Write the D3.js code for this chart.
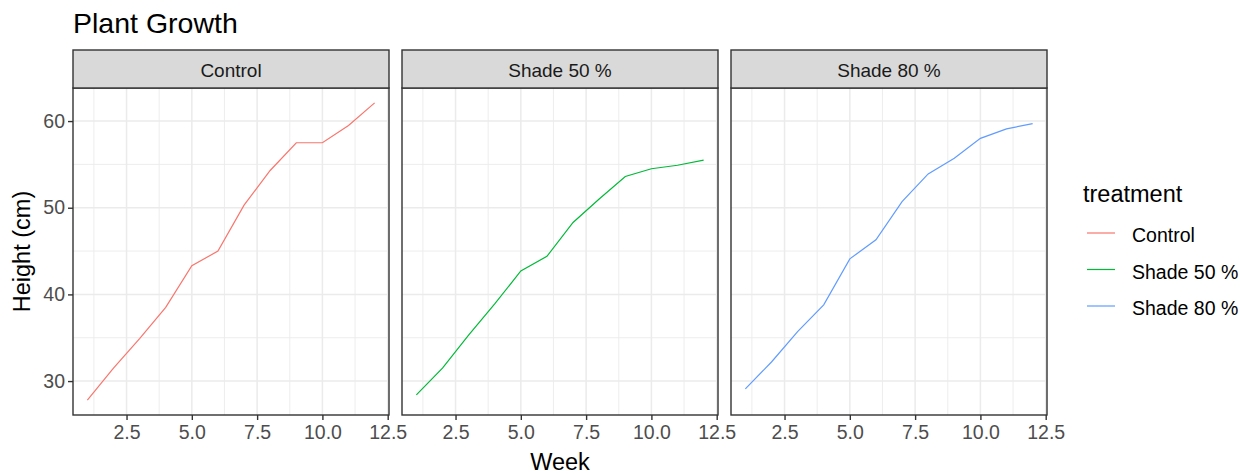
<!DOCTYPE html>
<html>
<head>
<meta charset="utf-8">
<script src="https://cdnjs.cloudflare.com/ajax/libs/d3/7.8.5/d3.min.js"></script>
<style>
  body { margin: 0; background: #fff; }
  text { font-family: "Liberation Sans", Arial, sans-serif; }
</style>
</head>
<body>
<div id="chart"></div>
<script>
// data
const weeks = [1, 2, 3, 4, 5, 6, 7, 8, 9, 10, 11, 12];
const treatments = ["Control", "Shade 50 %", "Shade 80 %"];
const controlHeight = [27.8, 31.5, 34.9, 38.5, 43.3, 45.0, 50.3, 54.3, 57.5, 57.5, 59.5, 62.1];
const shade50Height = [28.4, 31.5, 35.3, 38.9, 42.7, 44.4, 48.3, 51.0, 53.6, 54.5, 54.9, 55.5];
const shade80Height = [29.1, 32.2, 35.7, 38.8, 44.1, 46.3, 50.7, 53.9, 55.7, 58.0, 59.1, 59.7];
const xTicks = [2.5, 5.0, 7.5, 10.0, 12.5];
const xMinor = [1.25, 3.75, 6.25, 8.75, 11.25];
const yTicks = [30, 40, 50, 60];
const yMinor = [35, 45, 55];
const colors = ["#F8766D", "#00BA38", "#619CFF"];

const series = [controlHeight, shade50Height, shade80Height].map((vals, i) => ({
  name: treatments[i],
  color: colors[i],
  values: weeks.map((w, j) => ({ week: w, height: vals[j] }))
}));

const width = 1240, height = 474;
const panelW = 316, gap = 13, left0 = 73;
const stripTop = 50, panelTop = 88, panelBottom = 415;

const svg = d3.select("#chart").append("svg")
  .attr("width", width)
  .attr("height", height);

// ggplot style 5% expansion
function expand(ext) {
  const d = (ext[1] - ext[0]) * 0.05;
  return [ext[0] - d, ext[1] + d];
}

const allH = series.flatMap(s => s.values.map(v => v.height));
const y = d3.scaleLinear()
  .domain(expand(d3.extent(allH)))
  .range([panelBottom, panelTop]);

// title
svg.append("text")
  .attr("x", left0)
  .attr("y", 33)
  .attr("font-size", 28.5)
  .attr("fill", "#000")
  .text("Plant Growth");

series.forEach((s, i) => {
  const px = left0 + i * (panelW + gap);
  const x = d3.scaleLinear()
    .domain(expand(d3.extent(weeks)))
    .range([px, px + panelW]);

  const g = svg.append("g");

  // grid
  g.selectAll(".xminor").data(xMinor).enter().append("line")
    .attr("x1", d => x(d)).attr("x2", d => x(d))
    .attr("y1", panelTop).attr("y2", panelBottom)
    .attr("stroke", "#EBEBEB").attr("stroke-width", 0.9);
  g.selectAll(".yminor").data(yMinor).enter().append("line")
    .attr("x1", px).attr("x2", px + panelW)
    .attr("y1", d => y(d)).attr("y2", d => y(d))
    .attr("stroke", "#EBEBEB").attr("stroke-width", 0.9);
  g.selectAll(".xmajor").data(xTicks).enter().append("line")
    .attr("x1", d => x(d)).attr("x2", d => x(d))
    .attr("y1", panelTop).attr("y2", panelBottom)
    .attr("stroke", "#EBEBEB").attr("stroke-width", 1.5);
  g.selectAll(".ymajor").data(yTicks).enter().append("line")
    .attr("x1", px).attr("x2", px + panelW)
    .attr("y1", d => y(d)).attr("y2", d => y(d))
    .attr("stroke", "#EBEBEB").attr("stroke-width", 1.5);

  // line
  g.append("path")
    .datum(s.values)
    .attr("fill", "none")
    .attr("stroke", s.color)
    .attr("stroke-width", 1.2)
    .attr("d", d3.line().x(d => x(d.week)).y(d => y(d.height)));

  // panel border
  g.append("rect")
    .attr("x", px).attr("y", panelTop)
    .attr("width", panelW).attr("height", panelBottom - panelTop)
    .attr("fill", "none").attr("stroke", "#333").attr("stroke-width", 1.4);

  // strip
  g.append("rect")
    .attr("x", px).attr("y", stripTop)
    .attr("width", panelW).attr("height", panelTop - stripTop)
    .attr("fill", "#D9D9D9").attr("stroke", "#333").attr("stroke-width", 1.4);
  g.append("text")
    .attr("x", px + panelW / 2)
    .attr("y", (stripTop + panelTop) / 2 + 1)
    .attr("text-anchor", "middle")
    .attr("dominant-baseline", "central")
    .attr("font-size", 19)
    .attr("fill", "#1A1A1A")
    .text(s.name);

  // x axis
  const xa = g.append("g")
    .attr("transform", `translate(0,${panelBottom})`)
    .call(d3.axisBottom(x).tickValues(xTicks).tickSize(5).tickPadding(5)
      .tickFormat(d3.format(".1f")));
  xa.select(".domain").remove();
  xa.selectAll(".tick line").attr("stroke", "#333").attr("stroke-width", 1.4);
  xa.selectAll(".tick text")
    .attr("font-size", 19.5).attr("fill", "#4D4D4D")
    .attr("font-family", "Liberation Sans, Arial, sans-serif");

  if (i === 0) {
    const ya = g.append("g")
      .attr("transform", `translate(${px},0)`)
      .call(d3.axisLeft(y).tickValues(yTicks).tickSize(5).tickPadding(3));
    ya.select(".domain").remove();
    ya.selectAll(".tick line").attr("stroke", "#333").attr("stroke-width", 1.4);
    ya.selectAll(".tick text")
      .attr("font-size", 19.5).attr("fill", "#4D4D4D")
      .attr("font-family", "Liberation Sans, Arial, sans-serif");
  }
});

// axis titles
const plotRight = left0 + 3 * panelW + 2 * gap;
svg.append("text")
  .attr("x", (left0 + plotRight) / 2)
  .attr("y", 470)
  .attr("text-anchor", "middle")
  .attr("font-size", 23.5)
  .text("Week");

svg.append("text")
  .attr("transform", `translate(30,${(panelTop + panelBottom) / 2}) rotate(-90)`)
  .attr("text-anchor", "middle")
  .attr("font-size", 23.5)
  .text("Height (cm)");

// legend
const legend = svg.append("g").attr("transform", "translate(1083,0)");
legend.append("text")
  .attr("x", 0).attr("y", 202)
  .attr("font-size", 23.5)
  .text("treatment");

const items = legend.selectAll(".item").data(series).enter().append("g")
  .attr("transform", (d, i) => `translate(0,${233 + i * 36.5})`);
items.append("line")
  .attr("x1", 4).attr("x2", 32)
  .attr("stroke", d => d.color).attr("stroke-width", 1.2);
items.append("text")
  .attr("x", 49).attr("y", 2)
  .attr("dominant-baseline", "central")
  .attr("font-size", 19.5)
  .attr("fill", "#000")
  .text(d => d.name);
</script>
</body>
</html>
